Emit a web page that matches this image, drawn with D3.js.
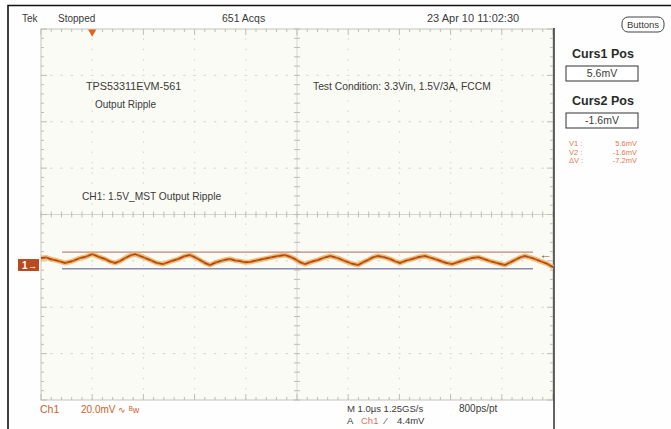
<!DOCTYPE html>
<html><head><meta charset="utf-8">
<script src="https://cdn.jsdelivr.net/npm/d3@7"></script>
<style>
html,body{margin:0;padding:0;background:#fff;}
svg{display:block;font-family:"Liberation Sans",Arial,sans-serif;}
</style></head>
<body>
<script>
// ---- data (time in µs, voltage in mV) ----
const traceT = [-1.0,-0.9,-0.82,-0.7,-0.53,-0.4,-0.24,-0.12,0.0,0.12,0.25,0.35,0.45,0.55,0.64,0.74,0.84,0.98,1.13,1.25,1.38,1.52,1.68,1.8,1.91,2.0,2.1,2.2,2.3,2.4,2.5,2.6,2.69,2.79,2.89,2.98,3.08,3.25,3.43,3.6,3.77,3.86,3.96,4.06,4.16,4.28,4.41,4.53,4.65,4.8,4.94,5.06,5.19,5.29,5.39,5.48,5.58,5.7,5.82,5.92,6.01,6.13,6.25,6.38,6.5,6.62,6.75,6.9,7.03,7.15,7.28,7.41,7.54,7.65,7.77,7.92,8.06,8.16,8.26,8.36,8.45,8.6,8.75,8.88,9.0];
const traceV = [3.0,3.3,2.6,2.0,0.9,1.6,3.0,3.6,4.7,3.6,2.6,1.5,0.9,1.8,3.0,4.1,4.7,3.5,2.2,1.0,0.4,1.5,2.6,3.8,4.3,3.4,2.2,0.9,0.0,1.0,1.7,2.3,2.6,2.0,1.7,1.2,1.3,2.2,3.0,3.8,4.3,3.6,2.6,1.2,0.4,1.4,2.2,3.2,3.9,3.0,1.7,0.7,0.0,1.2,2.2,3.3,3.9,3.4,2.6,1.6,0.9,1.9,2.6,3.5,3.9,3.1,2.2,1.0,0.4,1.3,2.2,3.0,3.4,2.6,1.7,0.8,0.0,1.1,2.2,3.3,3.9,3.0,1.7,0.6,-0.9];
const cursorNames = ["Curs1 Pos","Curs2 Pos"];
const cursorValues = [5.6,-1.6];           // mV
const readoutLabels = ["V1 :","V2 :","ΔV :"];
const readoutValues = ["5.6mV","-1.6mV","-7.2mV"];
const timeDomain = [-1, 9];                 // µs, 1.0 µs/div, trigger at 0
const voltDomain = [-58.2, 101.8];          // mV, 20 mV/div
const topLabels = ["Tek","Stopped","651 Acqs","23 Apr 10 11:02:30"];
const noteLabels = ["TPS53311EVM-561","Output Ripple","Test Condition: 3.3Vin, 1.5V/3A, FCCM","CH1: 1.5V_MST Output Ripple"];

const W=671,H=429;
const svg=d3.select("body").append("svg").attr("width",W).attr("height",H);
const L=41,R=553,T=29,B=400;
const x=d3.scaleLinear().domain(timeDomain).range([L,R]);
const y=d3.scaleLinear().domain(voltDomain).range([B,T]);
const divX=(R-L)/10, divY=(B-T)/8;

// outer border
svg.append("rect").attr("width",W).attr("height",H).attr("fill","#fefefe");
svg.append("path").attr("d",`M8,${H}V5.5H${W}`).attr("fill","none").attr("stroke","#111").attr("stroke-width",1.6);
// graticule bg
svg.append("rect").attr("x",L).attr("y",T).attr("width",R-L).attr("height",B-T).attr("fill","#fbfbf6");

const g=svg.append("g");
const gridCol="#d4d4cb";
for(let i=1;i<10;i++){ if(i===5)continue;
  g.append("line").attr("x1",L+i*divX).attr("x2",L+i*divX).attr("y1",T).attr("y2",B)
   .attr("stroke",gridCol).attr("stroke-width",1).attr("stroke-dasharray","1.5,8.78").attr("stroke-dashoffset",-9.5);
}
for(let j=1;j<8;j++){ if(j===4)continue;
  g.append("line").attr("y1",T+j*divY).attr("y2",T+j*divY).attr("x1",L).attr("x2",R)
   .attr("stroke",gridCol).attr("stroke-width",1).attr("stroke-dasharray","2.5,7.74").attr("stroke-dashoffset",-9);
}
const cx=L+5*divX, cy=T+4*divY;
g.append("line").attr("x1",cx).attr("x2",cx).attr("y1",T).attr("y2",B).attr("stroke","#d6d6ce");
g.append("line").attr("y1",cy).attr("y2",cy).attr("x1",L).attr("x2",R).attr("stroke","#d6d6ce");
g.append("rect").attr("x",L).attr("y",T).attr("width",R-L).attr("height",B-T).attr("fill","none").attr("stroke","#c4c4bb");
const tickCol="#bdbdb4";
for(let k=0;k<=50;k++){
  const xx=L+k*divX/5, major=k%5===0, len=major?6:3;
  g.append("line").attr("x1",xx).attr("x2",xx).attr("y1",T).attr("y2",T+len).attr("stroke",tickCol);
  g.append("line").attr("x1",xx).attr("x2",xx).attr("y1",B).attr("y2",B-len).attr("stroke",tickCol);
  g.append("line").attr("x1",xx).attr("x2",xx).attr("y1",cy-3).attr("y2",cy+3).attr("stroke",tickCol);
}
for(let k=0;k<=40;k++){
  const yy=T+k*divY/5, major=k%5===0, len=major?6:3;
  g.append("line").attr("y1",yy).attr("y2",yy).attr("x1",L).attr("x2",L+len).attr("stroke",tickCol);
  g.append("line").attr("y1",yy).attr("y2",yy).attr("x1",R).attr("x2",R-len).attr("stroke",tickCol);
  g.append("line").attr("y1",yy).attr("y2",yy).attr("x1",cx-3).attr("x2",cx+3).attr("stroke",tickCol);
}
svg.append("line").attr("x1",R+1).attr("x2",R+1).attr("y1",T-1).attr("y2",H).attr("stroke","#222").attr("stroke-width",1.4);

// trigger marker
svg.append("path").attr("d",d3.symbol(d3.symbolTriangle,30)()).attr("transform",`translate(${x(0)},${T+3}) rotate(180)`).attr("fill","#e0641e");

// cursors
const cursorCols=["#b98a7e","#8c8ca8"];
cursorValues.forEach((v,i)=>{
  svg.append("line").attr("x1",62).attr("x2",533).attr("y1",y(v)).attr("y2",y(v)).attr("stroke",cursorCols[i]).attr("stroke-width",1.3);
});
svg.append("text").attr("x",539).attr("y",y(cursorValues[0])+7).attr("font-size",13).attr("fill","#a05a40").text("←");

// trace
const pts=traceT.map((t,i)=>[x(t),y(traceV[i])]);
const line=d3.line();
svg.append("path").attr("d",line(pts)).attr("fill","none").attr("stroke","#ecb35a").attr("stroke-width",5).attr("opacity",0.8).attr("stroke-linejoin","round");
svg.append("path").attr("d",line(pts)).attr("fill","none").attr("stroke","#c65a1c").attr("stroke-width",2).attr("stroke-linejoin","round");
svg.append("path").attr("d",line(pts)).attr("fill","none").attr("stroke","#9a3a18").attr("stroke-width",0.8).attr("stroke-dasharray","4,3");

// channel marker
const gy=y(0);
svg.append("rect").attr("x",18).attr("y",gy-6).attr("width",21).attr("height",12).attr("fill","#b84a20");
svg.append("text").attr("x",22).attr("y",gy+4).attr("font-size",10).attr("font-weight","bold").attr("fill","#fff").text("1");
svg.append("text").attr("x",28).attr("y",gy+4).attr("font-size",9).attr("fill","#fff").text("→");

// texts
const txt=(s,xx,yy,opt={})=>svg.append("text").attr("x",xx).attr("y",yy).attr("font-size",opt.fs||10)
  .attr("fill",opt.c||"#3a3a3a").attr("font-weight",opt.w||"normal").attr("text-anchor",opt.a||"start").text(s);
txt(topLabels[0],22,22,{fs:10});
txt(topLabels[1],58,22,{fs:10});
txt(topLabels[2],222,22,{fs:10.5});
txt(topLabels[3],427,22,{fs:11});

txt(noteLabels[0],86,90,{fs:10.8});
txt(noteLabels[1],95,108,{fs:10});
txt(noteLabels[2],313,90,{fs:10.3});
txt(noteLabels[3],82,200,{fs:10.2});

// right panel
svg.append("rect").attr("x",622).attr("y",17).attr("width",42).attr("height",15).attr("rx",6).attr("fill","#fff").attr("stroke","#444");
txt("Buttons",643,28,{fs:9.5,a:"middle"});
cursorNames.forEach((n,i)=>{
  const by=[57,104][i];
  txt(n,603,by+1,{fs:12.5,w:"bold",c:"#2a2a2a",a:"middle"});
  svg.append("rect").attr("x",566).attr("y",by+9).attr("width",72).attr("height",15).attr("fill","#fff").attr("stroke","#333");
  txt((cursorValues[i]).toFixed(1)+"mV",602,by+20,{fs:10.5,a:"middle"});
});
readoutLabels.forEach((l,i)=>{
  const yy=146+i*8.5;
  txt(l,569,yy,{fs:7.5,c:"#e07850"});
  txt(readoutValues[i],637,yy,{fs:7.5,c:"#e07850",a:"end"});
});

// bottom texts
txt("Ch1",40,413,{c:"#c8642a",fs:10.5});
txt("20.0mV",81,413,{c:"#c8642a",fs:10});
txt("∿",118,413,{c:"#c8642a",fs:9});
txt("ᴮw",129,413,{c:"#c8642a",fs:9});
txt("M 1.0µs 1.25GS/s",347,412,{fs:9.5});
txt("800ps/pt",459,412,{fs:10});
txt("A",347,424,{fs:9.5});
txt("Ch1",361,424,{c:"#e07060",fs:9.5});
txt("⁄",385,424,{fs:9.5});
txt("4.4mV",397,424,{fs:9.5});
</script>
</body></html>
